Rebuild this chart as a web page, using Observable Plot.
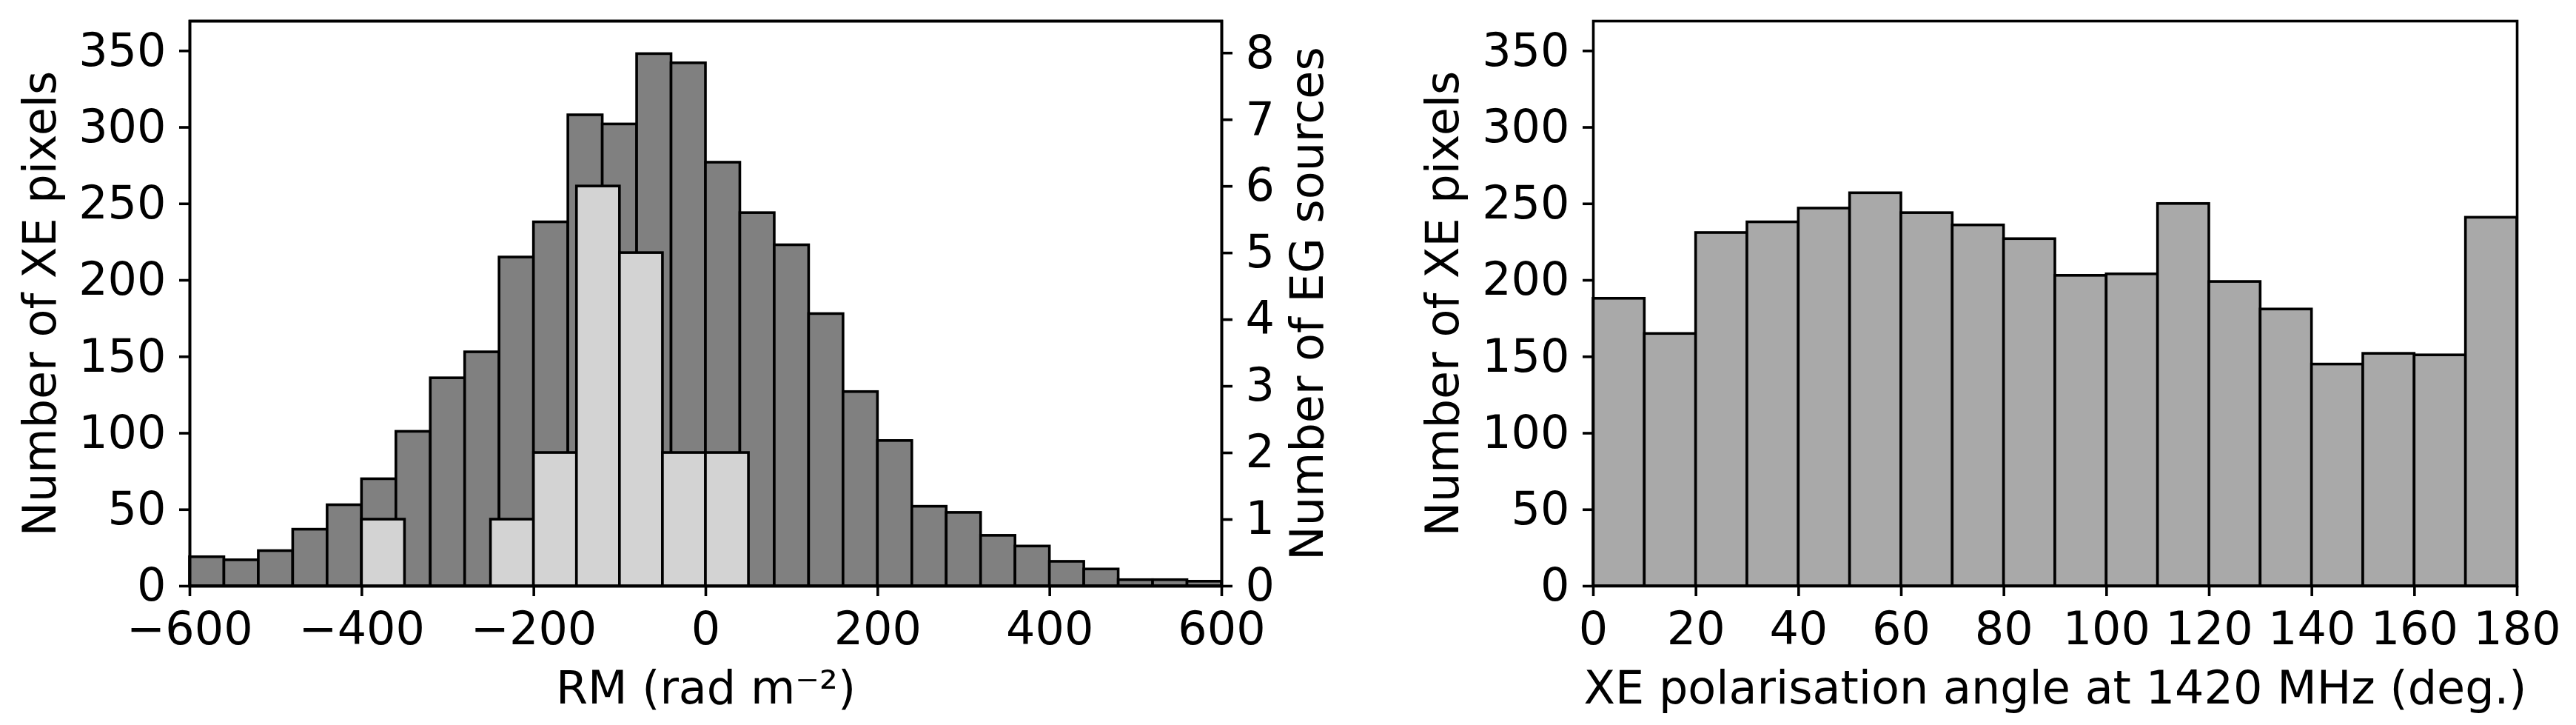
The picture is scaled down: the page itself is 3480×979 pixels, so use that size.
<!DOCTYPE html>
<html><head><meta charset="utf-8">
<script src="https://cdn.jsdelivr.net/npm/d3@7"></script>
<script src="https://cdn.jsdelivr.net/npm/@observablehq/plot@0.6"></script>
<style>
html,body{margin:0;padding:0;background:#fff;}
#fig{position:relative;width:3480px;height:979px;}
#fig svg{position:absolute;left:0;top:0;}
</style></head><body><div id="fig"></div>
<script>
// ---- data ----
const rmEdges = [-600,-560,-520,-480,-440,-400,-360,-320,-280,-240,-200,-160,-120,-80,-40,0,40,80,120,160,200,240,280,320,360,400,440,480,520,560,600];
const xeCounts = [19,17,23,37,53,70,101,136,153,215,238,308,302,348,342,277,244,223,178,127,95,52,48,33,26,16,11,4,4,3];
const egEdges = [-400,-350,-300,-250,-200,-150,-100,-50,0,50];
const egCounts = [1,0,0,1,2,6,5,2,2];
const angleEdges = [0,10,20,30,40,50,60,70,80,90,100,110,120,130,140,150,160,170,180];
const angleCounts = [188,165,231,238,247,257,244,236,227,203,204,250,199,181,145,152,151,241];
const rmTicks = [-600,-400,-200,0,200,400,600];
const xeTicks = [0,50,100,150,200,250,300,350];
const egTicks = [0,1,2,3,4,5,6,7,8];
const angleTicks = [0,20,40,60,80,100,120,140,160,180];
const labels = {
  rmX: "RM (rad m\u207B\u00B2)",
  xeY: "Number of XE pixels",
  egY: "Number of EG sources",
  angX: "XE polarisation angle at 1420 MHz (deg.)"
};

const rows = (edges, counts) => counts.map((c, i) => ({x1: edges[i], x2: edges[i+1], y: c})).filter(d => d.y > 0);
const fmt = d => d < 0 ? "\u2212" + (-d) : String(d);

const W = 3480, H = 979, MT = 28, MB = 188;
const style = {fontFamily: "'DejaVu Sans', sans-serif", fontSize: "62px", background: "transparent", color: "black", overflow: "visible"};
const SW = 3.6;
const lbl = {textAnchor: "middle", lineAnchor: "middle", text: d => d};

const left = Plot.plot({
  width: W, height: H, marginLeft: 256, marginRight: W - 1650, marginTop: MT, marginBottom: MB,
  x: {domain: [-600, 600]}, y: {domain: [0, 369.5]}, style,
  marks: [
    Plot.rectY(rows(rmEdges, xeCounts), {x1: "x1", x2: "x2", y: "y", fill: "#808080", stroke: "black", strokeWidth: SW, inset: 0}),
    Plot.axisX({ticks: rmTicks, tickSize: 14, tickPadding: 20, strokeWidth: SW, tickFormat: fmt, label: null}),
    Plot.axisY({ticks: xeTicks, tickSize: 14, tickPadding: 18, strokeWidth: SW, tickFormat: fmt, label: null}),
    Plot.text([labels.xeY], {...lbl, frameAnchor: "left", dx: -201, rotate: -90}),
    Plot.text([labels.rmX], {...lbl, frameAnchor: "bottom", dy: 139}),
    Plot.frame({strokeWidth: SW})
  ]
});

const overlay = Plot.plot({
  width: W, height: H, marginLeft: 256, marginRight: W - 1650, marginTop: MT, marginBottom: MB,
  x: {domain: [-600, 600], axis: null}, y: {domain: [0, 8.48]}, style,
  marks: [
    Plot.rectY(rows(egEdges, egCounts), {x1: "x1", x2: "x2", y: "y", fill: "#d3d3d3", stroke: "black", strokeWidth: SW, inset: 0}),
    Plot.axisY({anchor: "right", ticks: egTicks, tickSize: 14, tickPadding: 18, strokeWidth: SW, tickFormat: fmt, label: null}),
    Plot.text([labels.egY], {...lbl, frameAnchor: "right", dx: 117, rotate: -90}),
    Plot.frame({strokeWidth: SW})
  ]
});

const right = Plot.plot({
  width: W, height: H, marginLeft: 2152, marginRight: W - 3400, marginTop: MT, marginBottom: MB,
  x: {domain: [0, 180]}, y: {domain: [0, 369.5]}, style,
  marks: [
    Plot.rectY(rows(angleEdges, angleCounts), {x1: "x1", x2: "x2", y: "y", fill: "#a9a9a9", stroke: "black", strokeWidth: SW, inset: 0}),
    Plot.axisX({ticks: angleTicks, tickSize: 14, tickPadding: 20, strokeWidth: SW, tickFormat: fmt, label: null}),
    Plot.axisY({ticks: xeTicks, tickSize: 14, tickPadding: 18, strokeWidth: SW, tickFormat: fmt, label: null}),
    Plot.text([labels.xeY], {...lbl, frameAnchor: "left", dx: -202, rotate: -90}),
    Plot.text([labels.angX], {...lbl, frameAnchor: "bottom", dy: 139}),
    Plot.frame({strokeWidth: SW})
  ]
});

const fig = document.getElementById("fig");
fig.append(left, overlay, right);
</script>
</body></html>
